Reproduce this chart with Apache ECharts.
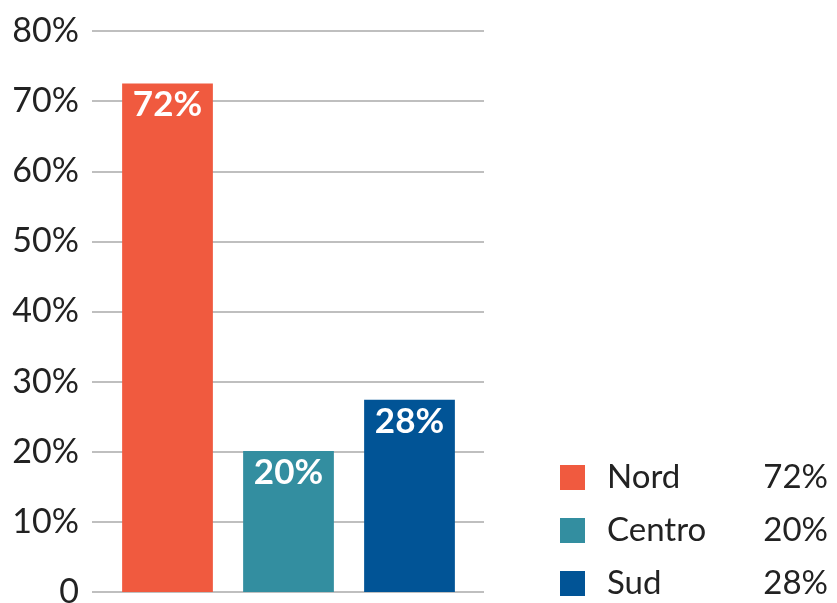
<!DOCTYPE html>
<html>
<head>
<meta charset="utf-8">
<script src="https://cdn.jsdelivr.net/npm/echarts@6/dist/echarts.min.js"></script>
<style>
  html, body { margin: 0; padding: 0; background: #fff; }
  #chart { width: 837px; height: 603px; }
</style>
</head>
<body>
<div id="chart"></div>
<script>
// data
const regions = ["Nord", "Centro", "Sud"];
const shares = [72.5, 20.1, 27.4];
const shareLabels = ["72%", "20%", "28%"];
const regionColors = ["#f05a3f", "#338ea0", "#015496"];
const yTickLabels = ["0", "10%", "20%", "30%", "40%", "50%", "60%", "70%", "80%"];

const chart = echarts.init(document.getElementById("chart"));
const font = "Lato, 'Noto Sans', sans-serif";

// one series per region so the legend lists each one
const series = regions.map((name, i) => ({
    name: name,
    type: "bar",
    stack: "all",
    xAxisIndex: 1,
    yAxisIndex: 1,
    barCategoryGap: "25%",
    itemStyle: { color: regionColors[i] },
    data: regions.map((r, j) => (j === i ? shares[i] : "-")),
    label: {
        show: true,
        position: "insideTop",
        distance: 4,
        color: "#fff",
        fontFamily: font,
        fontWeight: "bold",
        fontSize: 35,
        formatter: () => shareLabels[i],
    },
    emphasis: { disabled: true },
}));

const option = {
    animation: false,
    grid: [
        // gridlines + y labels
        { left: 92, width: 392, top: 31, bottom: 11, outerBoundsMode: "none" },
        // bars
        { left: 107, width: 363, top: 31, bottom: 11, outerBoundsMode: "none" },
    ],
    xAxis: [
        { gridIndex: 0, type: "value", show: false },
        { gridIndex: 1, type: "category", data: regions, show: false },
    ],
    yAxis: [
        {
            gridIndex: 0,
            type: "value",
            min: 0,
            max: 80,
            interval: 10,
            axisLine: { show: false },
            axisTick: { show: false },
            axisLabel: {
                margin: 13,
                color: "#222",
                fontFamily: font,
                fontSize: 34,
                formatter: (v) => yTickLabels[Math.round(v / 10)],
            },
            splitLine: { lineStyle: { color: "#aaa", width: 1.5 } },
        },
        { gridIndex: 1, type: "value", min: 0, max: 80, show: false },
    ],
    legend: {
        orient: "vertical",
        left: 560,
        top: 461,
        padding: 0,
        itemWidth: 25,
        itemHeight: 25,
        itemGap: 20,
        icon: "rect",
        selectedMode: false,
        data: regions,
        formatter: (name) => {
            const i = regions.indexOf(name);
            return "{g|}{n|" + name + "}{v|" + shareLabels[i] + "}";
        },
        textStyle: {
            rich: {
                g: { width: 17 },
                n: { width: 158, color: "#222", fontFamily: font, fontSize: 33 },
                v: { width: 63, align: "right", color: "#222", fontFamily: font, fontSize: 33 },
            },
        },
    },
    series: series,
};

chart.setOption(option);
</script>
</body>
</html>
